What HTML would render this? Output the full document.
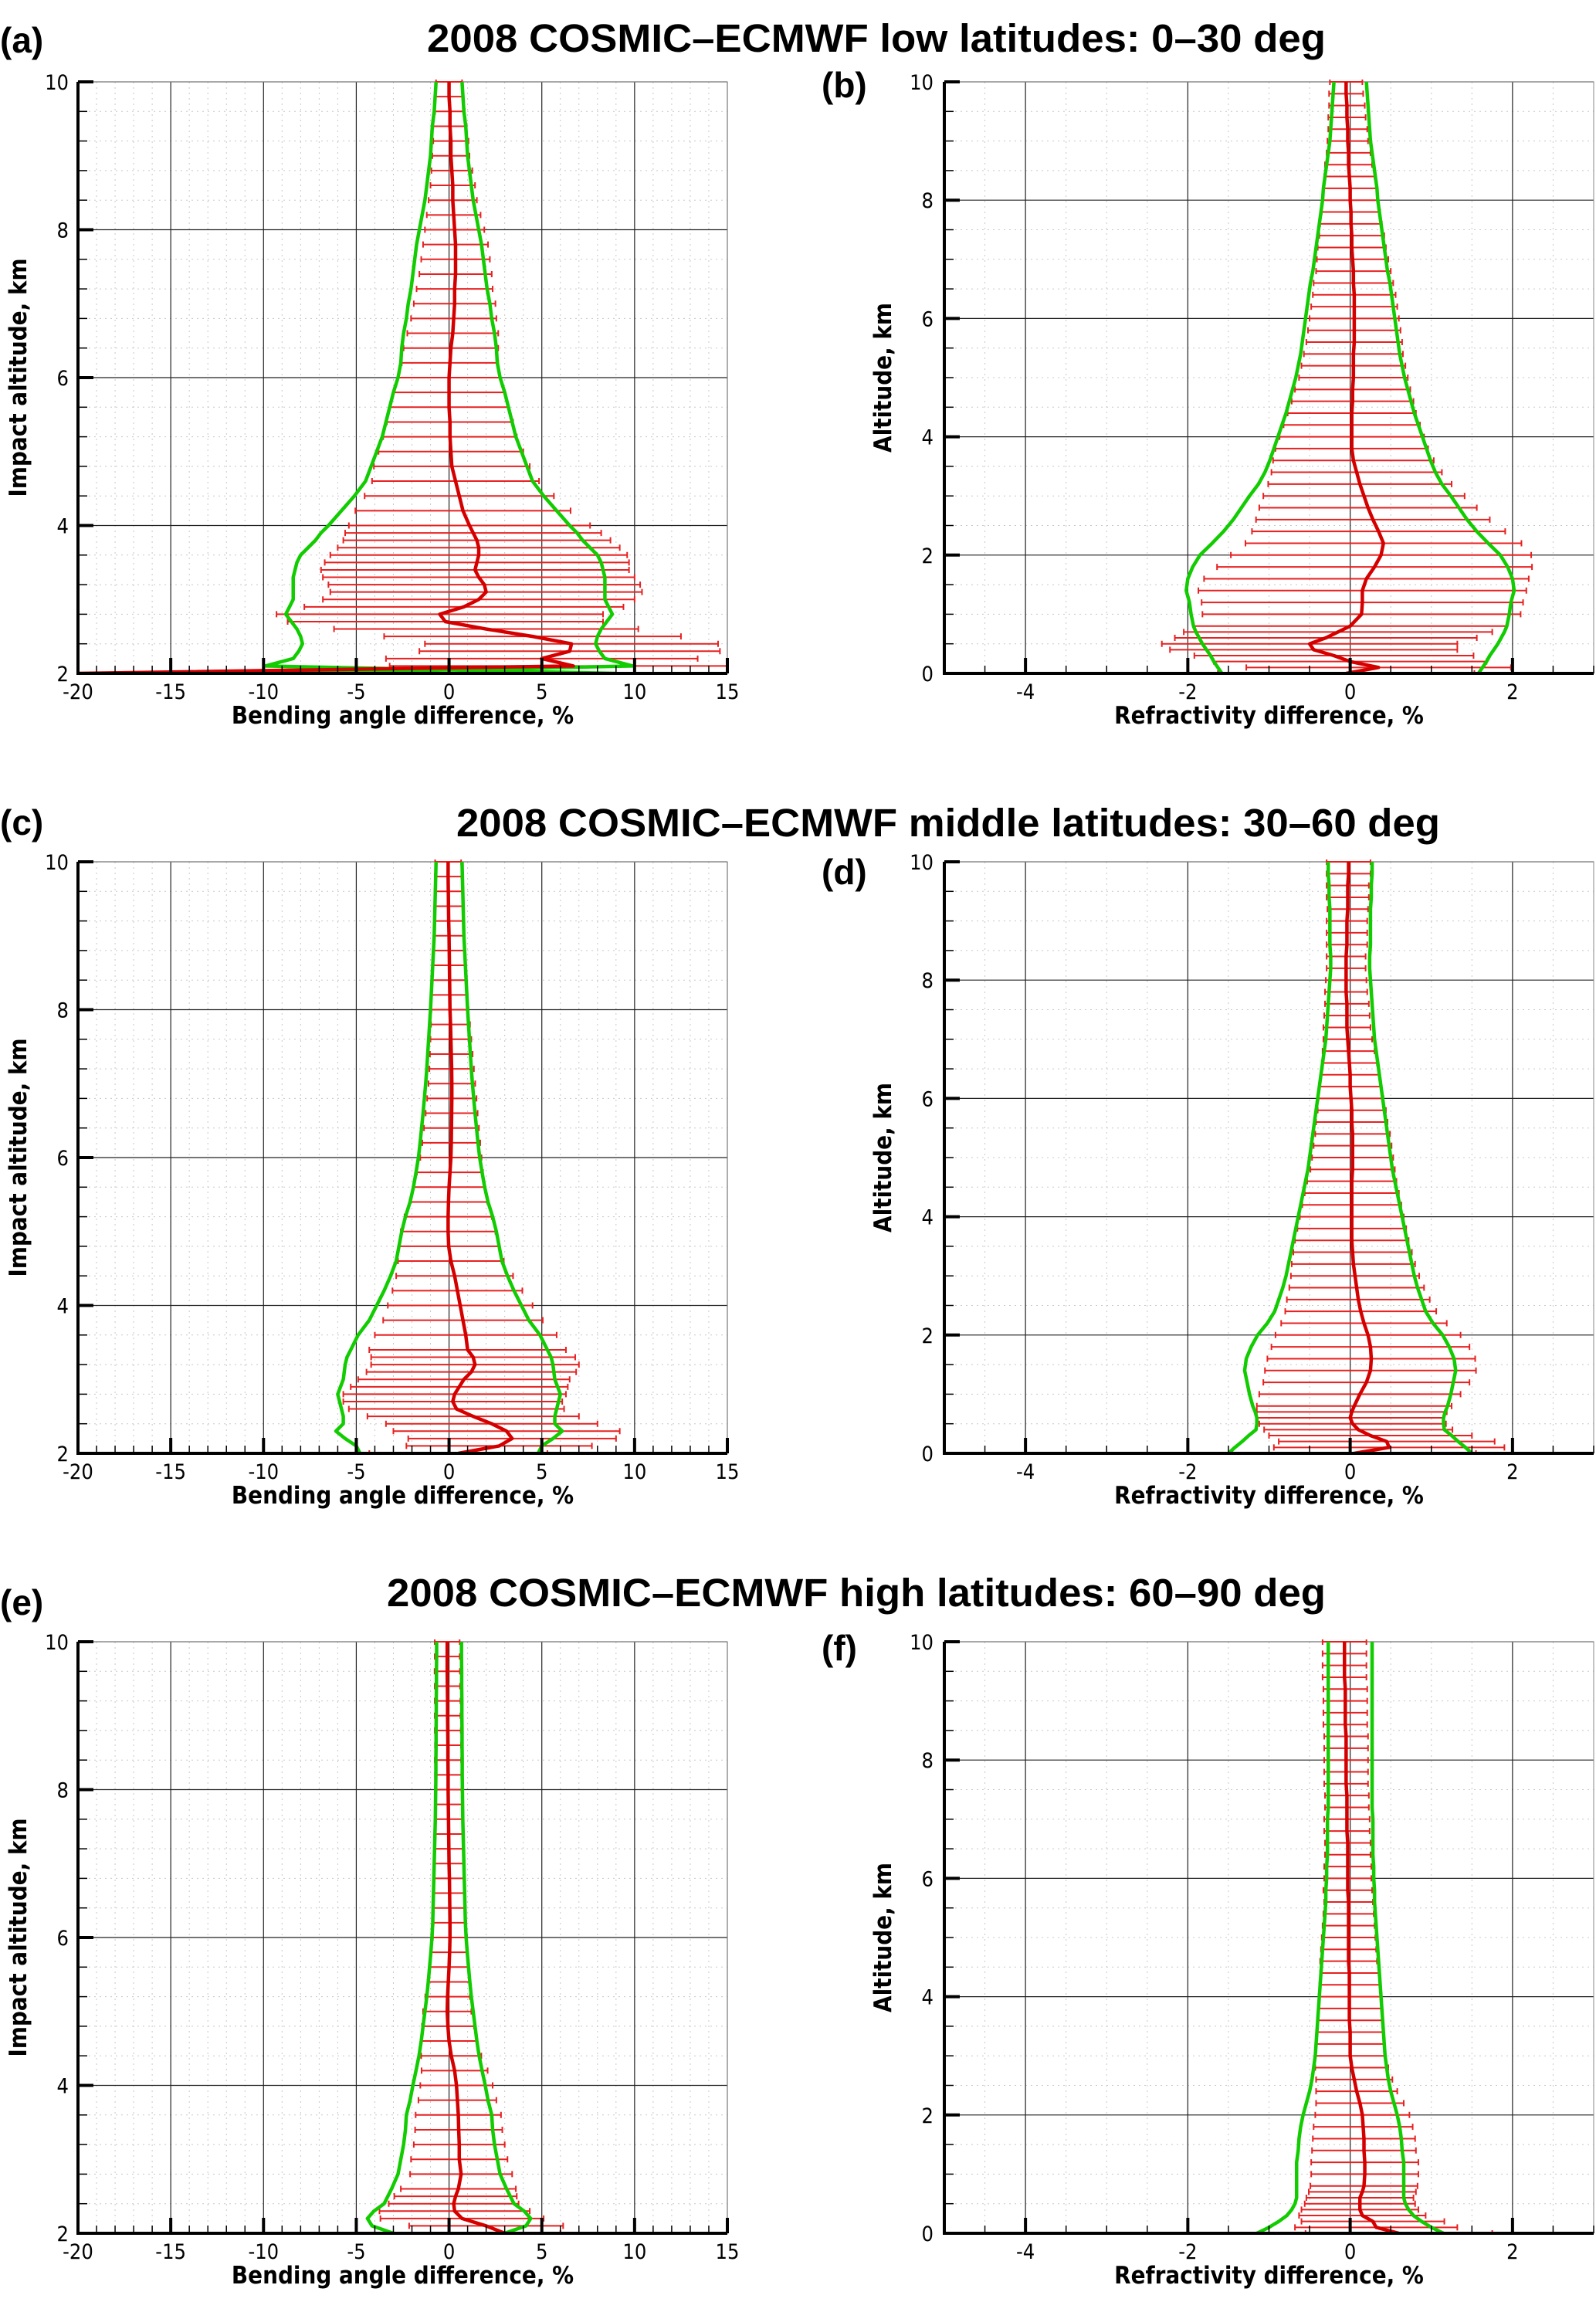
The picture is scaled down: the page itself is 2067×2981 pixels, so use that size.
<!DOCTYPE html>
<html><head><meta charset="utf-8"><style>
html,body{margin:0;padding:0;background:#fff}
svg{display:block}
text{font-family:"DejaVu Sans Condensed","Liberation Sans",sans-serif}
text.arial{font-family:"Liberation Sans",sans-serif}
</style></head><body>
<svg id="fig" width="2067" height="2981" xmlns="http://www.w3.org/2000/svg"></svg>
<script>
// ---------- Panel (a): low latitudes, bending angle ----------
const altA = [10,9.8,9.6,9.4,9.2,9,8.8,8.6,8.4,8.2,8,7.8,7.6,7.4,7.2,7,6.8,6.6,6.4,6.2,6,5.8,5.6,5.4,5.2,5,4.8,4.6,4.4,4.2,4,3.9,3.8,3.7,3.6,3.5,3.4,3.3,3.2,3.1,3,2.9,2.8,2.7,2.6,2.5,2.4,2.3,2.2,2.1,2.0];
const meanA = [0,0,0.05,0.05,0.1,0.1,0.15,0.2,0.2,0.25,0.3,0.35,0.35,0.35,0.3,0.3,0.25,0.2,0.1,0.05,0,0,0,0.05,0.05,0.1,0.15,0.35,0.55,0.75,1.1,1.3,1.5,1.6,1.6,1.5,1.4,1.6,1.9,2.0,1.6,0.8,-0.5,-0.2,2.0,4.5,6.6,6.5,5.0,6.7,-20];
const stdA = [0.7,0.75,0.8,0.9,0.95,1.0,1.1,1.2,1.3,1.45,1.6,1.75,1.85,1.95,2.05,2.2,2.3,2.45,2.55,2.6,2.75,3.0,3.2,3.4,3.6,3.9,4.2,4.5,5.1,5.8,6.5,6.9,7.2,7.6,8.0,8.2,8.3,8.4,8.4,8.4,8.4,8.6,8.8,8.5,8.2,8.0,7.9,8.1,8.4,9.9,-9];
// ---------- Panel (b): low latitudes, refractivity ----------
const altB = [10,9.8,9.6,9.4,9.2,9,8.8,8.6,8.4,8.2,8,7.8,7.6,7.4,7.2,7,6.8,6.6,6.4,6.2,6,5.8,5.6,5.4,5.2,5,4.8,4.6,4.4,4.2,4,3.8,3.6,3.4,3.2,3,2.8,2.6,2.4,2.2,2,1.8,1.6,1.4,1.2,1,0.8,0.7,0.6,0.5,0.4,0.3,0.2,0.1,0];
const meanB = [-0.05,-0.05,-0.04,-0.04,-0.03,-0.03,-0.02,-0.02,-0.01,0,0,0.01,0.01,0.02,0.02,0.03,0.04,0.04,0.05,0.05,0.05,0.05,0.05,0.04,0.04,0.04,0.03,0.03,0.02,0.02,0.02,0.02,0.04,0.08,0.12,0.17,0.22,0.28,0.35,0.41,0.38,0.3,0.2,0.15,0.15,0.14,0.0,-0.15,-0.3,-0.5,-0.45,-0.2,0.0,0.35,-0.05];
const stdB = [0.2,0.21,0.22,0.23,0.24,0.25,0.27,0.29,0.31,0.33,0.34,0.36,0.38,0.4,0.42,0.44,0.46,0.49,0.51,0.53,0.55,0.57,0.59,0.61,0.64,0.67,0.71,0.75,0.79,0.84,0.89,0.94,0.99,1.05,1.13,1.24,1.34,1.44,1.56,1.7,1.85,1.94,2.0,2.02,1.98,1.96,1.93,1.9,1.86,1.82,1.77,1.72,1.68,1.63,1.58];
// ---------- Panel (c): middle latitudes, bending angle ----------
const altC = [10,9.8,9.6,9.4,9.2,9,8.8,8.6,8.4,8.2,8,7.8,7.6,7.4,7.2,7,6.8,6.6,6.4,6.2,6,5.8,5.6,5.4,5.2,5,4.8,4.6,4.4,4.2,4,3.8,3.6,3.4,3.3,3.2,3.1,3,2.9,2.8,2.7,2.6,2.5,2.4,2.3,2.2,2.1,2.0];
const meanC = [-0.05,-0.05,-0.04,-0.03,-0.02,0,0.01,0.02,0.03,0.04,0.05,0.08,0.1,0.12,0.14,0.15,0.15,0.14,0.13,0.12,0.1,0.05,0,-0.03,-0.05,-0.05,-0.02,0.1,0.3,0.45,0.6,0.75,0.9,1.0,1.3,1.4,1.2,0.8,0.55,0.3,0.2,0.4,1.3,2.3,3.1,3.4,2.7,0.5];
const stdC = [0.7,0.72,0.74,0.76,0.78,0.8,0.84,0.88,0.92,0.96,1.0,1.05,1.1,1.15,1.2,1.26,1.33,1.4,1.48,1.56,1.65,1.78,1.92,2.1,2.35,2.55,2.7,2.85,3.15,3.5,3.9,4.3,4.9,5.3,5.5,5.6,5.65,5.7,5.85,6.0,5.9,5.8,5.7,5.7,6.1,5.6,5.0,4.8];
// ---------- Panel (d): middle latitudes, refractivity ----------
const altD = [10,9.8,9.6,9.4,9.2,9,8.8,8.6,8.4,8.2,8,7.8,7.6,7.4,7.2,7,6.8,6.6,6.4,6.2,6,5.8,5.6,5.4,5.2,5,4.8,4.6,4.4,4.2,4,3.8,3.6,3.4,3.2,3,2.8,2.6,2.4,2.2,2,1.8,1.6,1.4,1.2,1,0.8,0.7,0.6,0.5,0.4,0.3,0.2,0.1,0];
const meanD = [-0.02,-0.02,-0.03,-0.03,-0.03,-0.04,-0.04,-0.04,-0.05,-0.05,-0.05,-0.05,-0.04,-0.04,-0.04,-0.03,-0.02,-0.01,0,0,0.01,0.02,0.02,0.03,0.03,0.03,0.03,0.02,0.02,0.02,0.02,0.02,0.02,0.03,0.04,0.06,0.08,0.1,0.13,0.17,0.22,0.25,0.26,0.25,0.2,0.12,0.05,0.02,0.0,0.03,0.1,0.25,0.45,0.48,0.05];
const stdD = [0.27,0.27,0.26,0.26,0.25,0.25,0.25,0.25,0.24,0.24,0.25,0.26,0.27,0.28,0.29,0.3,0.32,0.34,0.36,0.38,0.4,0.42,0.44,0.46,0.48,0.5,0.52,0.55,0.58,0.61,0.64,0.67,0.7,0.73,0.76,0.79,0.83,0.88,0.93,1.02,1.14,1.22,1.28,1.3,1.27,1.24,1.2,1.17,1.15,1.15,1.16,1.25,1.33,1.42,1.5];
// ---------- Panel (e): high latitudes, bending angle ----------
const altE = [10,9.8,9.6,9.4,9.2,9,8.8,8.6,8.4,8.2,8,7.8,7.6,7.4,7.2,7,6.8,6.6,6.4,6.2,6,5.8,5.6,5.4,5.2,5,4.8,4.6,4.4,4.2,4,3.8,3.6,3.4,3.2,3,2.8,2.6,2.5,2.4,2.3,2.2,2.1,2.0];
const meanE = [-0.1,-0.1,-0.1,-0.09,-0.08,-0.08,-0.07,-0.06,-0.06,-0.05,-0.05,-0.04,-0.03,-0.02,-0.01,0,0.02,0.03,0.04,0.05,0.05,0.03,0,-0.04,-0.08,-0.1,-0.06,0,0.12,0.3,0.4,0.45,0.5,0.52,0.55,0.55,0.65,0.5,0.35,0.25,0.3,0.7,2.0,3.0];
const stdE = [0.67,0.67,0.68,0.68,0.69,0.69,0.7,0.7,0.71,0.71,0.72,0.73,0.74,0.76,0.78,0.8,0.82,0.84,0.86,0.88,0.92,0.98,1.05,1.12,1.2,1.3,1.4,1.5,1.62,1.78,1.95,2.1,2.3,2.35,2.45,2.6,2.75,3.1,3.3,3.5,4.05,4.4,4.15,3.0];
// ---------- Panel (f): high latitudes, refractivity ----------
const altF = [10,9.8,9.6,9.4,9.2,9,8.8,8.6,8.4,8.2,8,7.8,7.6,7.4,7.2,7,6.8,6.6,6.4,6.2,6,5.8,5.6,5.4,5.2,5,4.8,4.6,4.4,4.2,4,3.8,3.6,3.4,3.2,3,2.8,2.6,2.4,2.2,2,1.8,1.6,1.4,1.2,1,0.8,0.7,0.6,0.5,0.4,0.3,0.2,0.1,0];
const meanF = [-0.07,-0.07,-0.07,-0.07,-0.06,-0.06,-0.06,-0.06,-0.05,-0.05,-0.05,-0.05,-0.05,-0.04,-0.04,-0.04,-0.04,-0.03,-0.03,-0.03,-0.03,-0.03,-0.02,-0.02,-0.02,-0.02,-0.02,-0.02,-0.01,-0.01,-0.01,-0.01,-0.01,0,0,0,0.02,0.05,0.08,0.12,0.15,0.16,0.17,0.17,0.18,0.18,0.17,0.15,0.12,0.12,0.12,0.15,0.28,0.32,0.6];
const stdF = [0.27,0.27,0.27,0.27,0.27,0.27,0.27,0.27,0.27,0.27,0.27,0.27,0.27,0.27,0.27,0.28,0.28,0.28,0.28,0.29,0.29,0.3,0.3,0.31,0.32,0.33,0.34,0.35,0.36,0.37,0.38,0.39,0.4,0.41,0.42,0.43,0.45,0.47,0.5,0.54,0.58,0.61,0.63,0.64,0.66,0.66,0.66,0.66,0.66,0.68,0.72,0.78,0.88,1.0,1.15];

// tick labels
const bendTicks = [-20,-15,-10,-5,0,5,10,15];
const refTicks = [-4,-2,0,2];
const impTicks = [2,4,6,8,10];
const altTicks = [0,2,4,6,8,10];
const titles = ["2008 COSMIC\u2013ECMWF low latitudes: 0\u201330 deg","2008 COSMIC\u2013ECMWF middle latitudes: 30\u201360 deg","2008 COSMIC\u2013ECMWF high latitudes: 60\u201390 deg"];

const NS="http://www.w3.org/2000/svg";
const svg=document.getElementById('fig');
function mk(tag,attrs,parent,txt){const e=document.createElementNS(NS,tag);for(const k in attrs)e.setAttribute(k,attrs[k]);if(txt!==undefined)e.textContent=txt;(parent||svg).appendChild(e);return e;}

const rowTop=[106,1116,2126], H=766;
const titleX=[553,591,501], titleW=[1164,1274,1216], titleY=[49,1065,2062];
const labelY=[[52,110],[1065,1129],[2075,2134]];
const names=[['a','b'],['c','d'],['e','f']];
const data=[[[altA,meanA,stdA],[altB,meanB,stdB]],[[altC,meanC,stdC],[altD,meanD,stdD]],[[altE,meanE,stdE],[altF,meanF,stdF]]];

for(let r=0;r<3;r++){
  const t=mk('text',{class:'arial',x:titleX[r],y:titleY[r]+18,'font-size':51,'font-weight':'bold',textLength:titleW[r],lengthAdjust:'spacingAndGlyphs'},svg,titles[r]);
  
  
  for(let c=0;c<2;c++){
    const left = c===0;
    const x0 = left?101:1223, x1 = left?942:2064;
    const y0 = rowTop[r], y1 = rowTop[r]+H;
    const xmin = left?-20:-5, xmax = left?15:3;
    const ymin = left?2:0, ymax = 10;
    const X = v=>x0+(v-xmin)/(xmax-xmin)*(x1-x0);
    const Y = v=>y1-(v-ymin)/(ymax-ymin)*(y1-y0);
    const g=mk('g',{});
    
    
    const pl=mk('text',{class:'arial',x:left?0:1064,y:labelY[r][c]+16,'font-size':46,'font-weight':'bold'},g,'('+names[r][c]+')');
    
    
    const xMinorStep = left?1:0.5, yMinorStep = left?0.4:0.5;
    const xMajor = left?bendTicks:refTicks;
    const yMajor = left?impTicks:altTicks;
    for(let v=xmin;v<=xmax+1e-9;v+=xMinorStep){ if(Math.abs(v%(left?5:2))<1e-9) continue;
      const l=mk('line',{x1:X(v),x2:X(v),y1:y0,y2:y1,stroke:'#c8c8c8','stroke-width':1,'stroke-dasharray':'2,5'},g);
       }
    for(let v=ymin;v<=ymax+1e-9;v+=yMinorStep){ if(Math.abs(v%2)<1e-9||Math.abs(v%2-2)<1e-9) continue;
      const l=mk('line',{x1:x0,x2:x1,y1:Y(v),y2:Y(v),stroke:'#c8c8c8','stroke-width':1,'stroke-dasharray':'2,5'},g);
       }
    for(const v of xMajor){const l=mk('line',{x1:X(v),x2:X(v),y1:y0,y2:y1,stroke:'#222','stroke-width':1.2},g);
       }
    for(const v of yMajor){const l=mk('line',{x1:x0,x2:x1,y1:Y(v),y2:Y(v),stroke:'#222','stroke-width':1.2},g);
       }
    const fr=mk('rect',{x:x0,y:y0,width:x1-x0,height:y1-y0,fill:'none',stroke:'#888','stroke-width':1},g);
     
    const cid='clip'+r+c;
    const cp=mk('clipPath',{id:cid},g); mk('rect',{x:x0,y:y0-3,width:x1-x0,height:y1-y0+3},cp);
    const dg=mk('g',{'clip-path':'url(#'+cid+')'},g);
     
    const [alt,mean,std]=data[r][c];
    for(let i=0;i<alt.length;i++){
      if(std[i]<0) continue;
      const yy=Y(alt[i]), a=X(mean[i]-std[i]), b=X(mean[i]+std[i]);
      const eb=mk('path',{d:`M${a},${yy}H${b}M${a},${yy-4}V${yy+4}M${b},${yy-4}V${yy+4}`,stroke:'#e82020','stroke-width':2,fill:'none'},dg);
       
    }
    const gl=alt.map((a,i)=>(i?'L':'M')+X(-std[i])+','+Y(a)).join('');
    const gr=alt.map((a,i)=>(i?'L':'M')+X(std[i])+','+Y(a)).join('');
    const g1=mk('path',{d:gl,stroke:'#11cc00','stroke-width':4.5,fill:'none','stroke-linejoin':'round'},dg);
     
    const g2=mk('path',{d:gr,stroke:'#11cc00','stroke-width':4.5,fill:'none','stroke-linejoin':'round'},dg);
     
    const rm=alt.map((a,i)=>(i?'L':'M')+X(mean[i])+','+Y(a)).join('');
    const m=mk('path',{d:rm,stroke:'#d40000','stroke-width':4.5,fill:'none','stroke-linejoin':'round'},dg);
     
    for(let v=xmin;v<=xmax+1e-9;v+=xMinorStep){
      const maj=xMajor.some(t=>Math.abs(t-v)<1e-9);
      const l=mk('line',{x1:X(v),x2:X(v),y1:y1,y2:y1-(maj?20:10),stroke:'#000','stroke-width':maj?4:1.5},g);
       }
    for(let v=ymin;v<=ymax+1e-9;v+=yMinorStep){
      const maj=yMajor.some(t=>Math.abs(t-v)<1e-9);
      const l=mk('line',{x1:x0,x2:x0+(maj?20:12),y1:Y(v),y2:Y(v),stroke:'#000','stroke-width':maj?4:1.5},g);
       }
    const sl=mk('line',{x1:x0,x2:x0,y1:y0,y2:y1+2,stroke:'#000','stroke-width':4},g);
     
    const sb=mk('line',{x1:x0-2,x2:x1,y1:y1,y2:y1,stroke:'#000','stroke-width':4},g);
     
    for(const v of xMajor){const t=mk('text',{x:X(v),y:y1+33,'font-size':27,'text-anchor':'middle'},g,String(v));
       }
    for(const v of yMajor){const t=mk('text',{x:left?89:1209,y:Y(v)+10,'font-size':27,'text-anchor':'end'},g,String(v));
       }
    const xt=mk('text',{x:(x0+x1)/2,y:y1+65,'font-size':31,'font-weight':'bold','text-anchor':'middle'},g,left?'Bending angle difference, %':'Refractivity difference, %');
     
    const cx=left?34:1154, cy=(y0+y1)/2;
    const yt=mk('text',{x:cx,y:cy,'font-size':31,'font-weight':'bold','text-anchor':'middle',transform:`rotate(-90 ${cx} ${cy})`},g,left?'Impact altitude, km':'Altitude, km');
     
  }
}
</script>
</body></html>
